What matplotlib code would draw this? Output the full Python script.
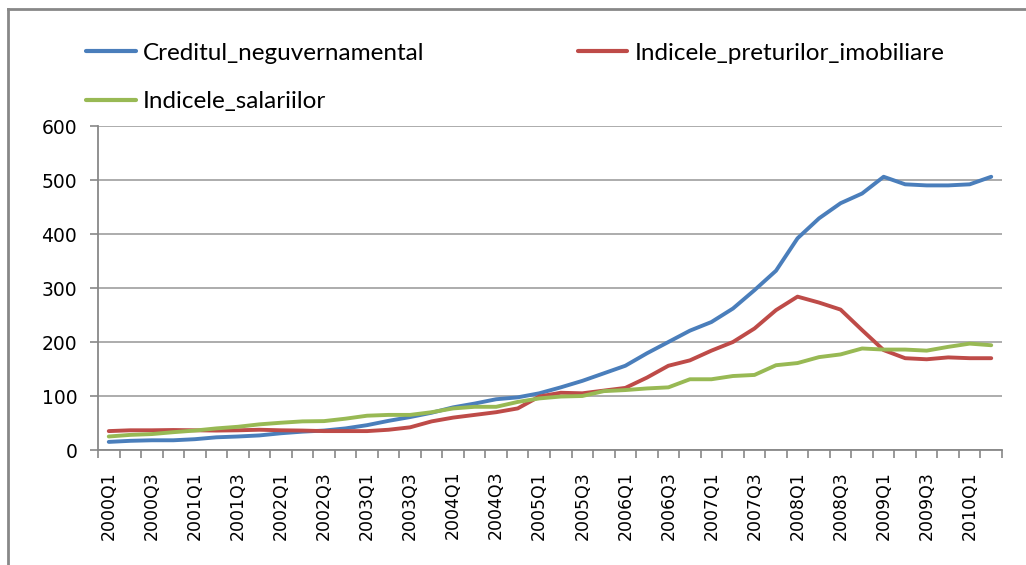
import numpy as np
import matplotlib
matplotlib.use('Agg')
import matplotlib.pyplot as plt
from matplotlib.lines import Line2D

# Date trimestriale 2000Q1 - 2010Q2
ani = list(range(2000, 2011))
trimestre = [f"{a}Q{q}" for a in ani for q in range(1, 5)][:42]

credit = [15, 17, 18, 18, 20, 23.5, 25, 27, 31, 34, 36, 40, 46, 54, 61,
          69, 79, 86, 94, 97.5, 105, 116, 128, 142, 156, 179, 200, 221,
          237, 262, 296, 332, 392, 429, 457, 475, 506, 492, 490, 490,
          492, 506]
pret_imob = [35, 36.5, 36.5, 37, 36.5, 36, 36.5, 37.5, 36.5, 36, 35, 35,
             35, 37.5, 42, 53, 60, 65, 70, 77, 99, 106, 105, 110, 115,
             134, 156, 166, 184, 200, 225, 259, 284, 273, 260, 222, 185,
             170, 168, 171.5, 170, 170]
salarii = [25, 28, 29.5, 33, 36, 40, 43, 47.5, 50.5, 53, 53.5, 58, 63.5,
           65, 65, 70, 77, 80, 80, 89, 95.5, 99, 100, 109, 111, 114, 116,
           131, 131, 137, 139, 157, 161, 172, 177, 188, 186, 186, 184,
           191, 197, 194]

nume = ['Creditul_neguvernamental', 'Indicele_preturilor_imobiliare',
        'Indicele_salariilor']
culori = ['#4A7EBB', '#BE4B48', '#98B954']

plt.rcParams['font.family'] = 'DejaVu Sans'

fig = plt.figure(figsize=(10.26, 5.65), dpi=100)
ax = fig.add_axes([98/1026, 1 - 450/565, 904/1026, 324/565])

x = np.arange(len(trimestre))
linii = []
for serie, eticheta, c in zip([credit, pret_imob, salarii], nume, culori):
    l, = ax.plot(x, serie, color=c, linewidth=2.8, label=eticheta,
                 solid_joinstyle='round', solid_capstyle='round')
    linii.append(l)

ax.set_xlim(-0.5, len(trimestre) - 0.5)
ax.set_ylim(0, 600)
ax.set_yticks(np.arange(0, 601, 100))
ax.set_yticklabels([str(v) for v in range(0, 601, 100)],
                   fontfamily='DejaVu Sans', fontsize=13.5)
ax.yaxis.grid(True, color='#a6a6a6', linewidth=1.3)
ax.set_axisbelow(True)

# tick-uri intre categorii, etichete la fiecare al doilea trimestru
ax.set_xticks(np.arange(-0.5, len(trimestre), 1.0))
ax.set_xticklabels([])
ax.set_xticks(x[::2], minor=True)
ax.set_xticklabels(trimestre[::2], minor=True, rotation=90,
                   fontsize=12.5, fontfamily='DejaVu Sans')
ax.tick_params(axis='x', which='major', length=6, color='#888888',
               width=1.2)
ax.tick_params(axis='x', which='minor', length=0, pad=15)
ax.tick_params(axis='y', length=6, color='#888888', width=1.2, pad=9)

for s in ['top', 'right']:
    ax.spines[s].set_visible(False)
for s in ['left', 'bottom']:
    ax.spines[s].set_color('#888888')
    ax.spines[s].set_linewidth(1.3)

# ordinea din legenda: credit, preturi pe primul rand; salarii pe al doilea
ordine = [0, 2, 1]
leg = fig.legend([linii[i] for i in ordine], [nume[i] for i in ordine],
                 loc='upper left', bbox_to_anchor=(64/1026, 1 - 21/565),
                 ncol=2, frameon=False, handlelength=2.05,
                 handletextpad=0.3, columnspacing=6.3, labelspacing=1.12,
                 prop={'family': 'Lato', 'size': 17.5})
for linie in leg.get_lines():
    linie.set_linewidth(3.0)

# chenarul graficului
fig.add_artist(Line2D([8/1026, 1], [1 - 9/565, 1 - 9/565],
                      color='#888888', linewidth=2))
fig.add_artist(Line2D([8/1026, 8/1026], [0, 1 - 9/565],
                      color='#888888', linewidth=2))

plt.savefig('out.png', dpi=100)
plt.close()
